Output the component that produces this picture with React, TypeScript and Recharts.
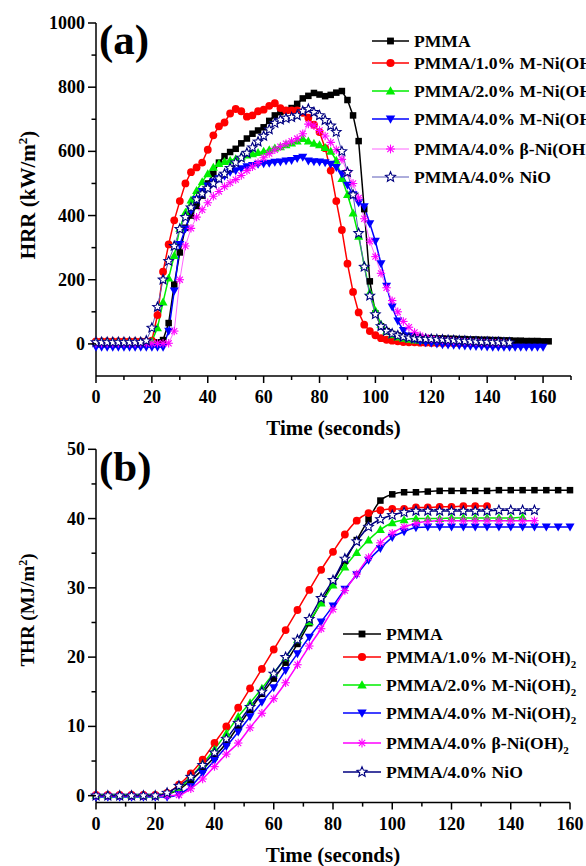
import React from 'react';
import { LineChart, Line, XAxis, YAxis } from 'recharts';

const FONT = '"Liberation Serif", "Times New Roman", Times, serif';

// ---------- Panel (a): HRR, sampled every 2 s ----------
const hrrTime = [
  0, 2, 4, 6, 8, 10, 12, 14, 16, 18, 20, 22, 24, 26, 28, 30, 32, 34, 36, 38,
  40, 42, 44, 46, 48, 50, 52, 54, 56, 58, 60, 62, 64, 66, 68, 70, 72, 74, 76, 78,
  80, 82, 84, 86, 88, 90, 92, 94, 96, 98, 100, 102, 104, 106, 108, 110, 112, 114, 116, 118,
  120, 122, 124, 126, 128, 130, 132, 134, 136, 138, 140, 142, 144, 146, 148, 150, 152, 154, 156, 158,
  160, 162,
];
const hrrPMMA = [
  5, 5, 5, 5, 5, 5, 5, 5, 5, 5,
  5, 5, 12, 65, 185, 285, 362, 400, 430, 462,
  500, 530, 565, 585, 598, 608, 625, 640, 655, 665,
  675, 695, 712, 722, 727, 735, 748, 765, 773, 782,
  777, 772, 776, 783, 788, 760, 712, 632, 420, 195,
  95, 55, 40, 31, 26, 23, 21, 20, 19, 18,
  18, 17, 17, 16, 16, 15, 15, 14, 14, 13,
  13, 12, 12, 11, 11, 10, 10, 9, 9, 9,
  8, 8,
];
const hrrM1 = [
  8, 8, 8, 8, 8, 8, 8, 8, 8, 8,
  10, 90, 225, 310, 385, 445, 500, 535, 550, 565,
  605, 650, 678, 690, 718, 732, 725, 708, 712, 725,
  730, 742, 750, 735, 728, 728, 728, 720, 705, 683,
  660, 610, 540, 445, 355, 250, 162, 98, 60, 40,
  27, 18, 13, 10, 8, 6, 5, 5, 4, 4,
  3, 3, 3, 3, 2, 2, 2, 2,
];
const hrrM2 = [
  8, 8, 8, 8, 8, 8, 8, 8, 8, 8,
  8, 50, 130, 205, 275, 360, 410, 448, 478, 505,
  530, 550, 562, 568, 572, 577, 583, 588, 592, 596,
  600, 605, 610, 614, 620, 626, 632, 640, 632, 625,
  620, 612, 600, 572, 515, 465, 408, 335, 245, 160,
  104, 61, 40, 28, 21, 17, 14, 12, 11, 10,
  10, 9, 9, 8, 8, 8, 7, 7, 7, 7,
  6, 6, 6, 6,
];
const hrrM4 = [
  -10, -10, -10, -10, -10, -10, -10, -10, -10, -10,
  -10, -10, -10, 40, 165, 310, 358, 415, 450, 475,
  492, 505, 515, 523, 535, 540, 546, 552, 556, 560,
  562, 563, 566, 567, 570, 572, 578, 582, 570, 568,
  567, 565, 560, 550, 530, 495, 465, 440, 428, 375,
  320, 250, 180, 115, 72, 42, 25, 15, 8, 4,
  2, 0, -2, -3, -4, -5, -6, -7, -8, -8,
  -9, -10, -10, -10, -10, -10, -10, -10, -10, -10,
  -10,
];
const hrrBeta = [
  2, 2, 2, 2, 2, 2, 2, 2, 2, 2,
  2, 2, 2, 2, 40, 200, 305, 360, 395, 418,
  440, 460, 475, 490, 502, 512, 525, 540, 552, 565,
  580, 593, 605, 615, 624, 632, 640, 655, 685, 680,
  665, 648, 628, 605, 575, 535, 500, 455, 390, 320,
  272, 220, 175, 135, 100, 70, 52, 36, 26, 20,
  16, 14, 12, 11, 10, 9, 8, 7, 6, 6,
  5, 5, 4, 4,
];
const hrrNiO = [
  5, 5, 5, 5, 5, 5, 5, 5, 5, 10,
  50, 115, 200, 258, 305, 358, 395, 425, 450, 468,
  485, 500, 515, 530, 548, 565, 580, 595, 612, 630,
  648, 668, 688, 698, 703, 706, 712, 725, 732, 722,
  712, 697, 680, 660, 600, 535, 465, 345, 240, 150,
  92, 55, 40, 32, 26, 22, 19, 17, 16, 15,
  15, 14, 13, 12, 11, 10, 9, 8, 7, 6,
  6, 5, 5, 4, 4,
];

// ---------- Panel (b): THR, sampled every 4 s ----------
const thrTime = [
  0, 4, 8, 12, 16, 20, 24, 28, 32, 36, 40, 44, 48, 52, 56, 60, 64, 68, 72, 76,
  80, 84, 88, 92, 96, 100, 104, 108, 112, 116, 120, 124, 128, 132, 136, 140, 144, 148, 152, 156,
  160,
];
const thrPMMA = [
  0, 0, 0, 0, 0, 0, 0.2, 0.9, 2.2, 3.8,
  5.6, 7.6, 10.0, 12.4, 14.7, 16.9, 19.2, 21.9, 24.9, 27.9,
  30.9, 33.9, 36.9, 39.9, 42.6, 43.5, 43.8, 43.8, 43.9, 44.0,
  44.0, 44.0, 44.0, 44.0, 44.1, 44.1, 44.1, 44.1, 44.1, 44.1,
  44.1,
];
const thrM1 = [
  0.1, 0.1, 0.1, 0.1, 0.1, 0.1, 0.4, 1.6, 3.2, 5.2,
  7.6, 10.0, 12.7, 15.5, 18.3, 21.1, 23.9, 26.8, 29.7, 32.6,
  35.2, 37.7, 39.7, 40.8, 41.2, 41.4, 41.4, 41.6, 41.6, 41.7,
  41.7, 41.8, 41.8, 41.8,
];
const thrM2 = [
  0.1, 0.1, 0.1, 0.1, 0.1, 0.1, 0.3, 1.0, 2.7, 4.6,
  6.7, 9.0, 11.4, 13.4, 15.5, 17.7, 19.9, 22.5, 25.1, 27.8,
  30.4, 33.0, 35.1, 36.9, 38.4, 39.4, 39.8, 40.0, 40.0, 40.0,
  40.1, 40.1, 40.1, 40.1, 40.1, 40.1, 40.2,
];
const thrM4 = [
  -0.2, -0.2, -0.2, -0.2, -0.2, -0.2, -0.2, 0.2, 1.3, 3.2,
  5.1, 7.1, 9.2, 11.4, 13.5, 15.6, 18.1, 20.5, 22.9, 25.1,
  27.4, 29.8, 31.9, 34.0, 35.7, 37.3, 38.1, 38.7, 38.8, 38.8,
  38.8, 38.8, 38.8, 38.8, 38.8, 38.8, 38.8, 38.8, 38.8, 38.8,
  38.8,
];
const thrBeta = [
  0, 0, 0, 0, 0, 0, 0, 0.1, 1.0, 2.4,
  4.2, 6.0, 7.6, 9.8, 11.9, 14.0, 16.3, 18.9, 21.6, 24.1,
  26.9, 29.6, 32.0, 34.4, 36.5, 37.9, 38.8, 39.3, 39.6, 39.7,
  39.7, 39.7, 39.7, 39.7, 39.7, 39.7, 39.7, 39.7,
];
const thrNiO = [
  0, 0, 0, 0, 0, 0, 0.4, 1.4, 2.7, 4.4,
  6.2, 8.2, 10.5, 12.8, 15.0, 17.6, 20.0, 22.5, 25.5, 28.5,
  31.1, 34.2, 36.7, 38.8, 39.9, 40.5, 40.9, 41.1, 41.1, 41.1,
  41.1, 41.1, 41.1, 41.1, 41.2, 41.2, 41.2, 41.2,
];

// ---------- Axis ticks ----------
const hrrXTicks = [0, 10, 20, 30, 40, 50, 60, 70, 80, 90, 100, 110, 120, 130, 140, 150, 160, 170];
const hrrXLabels = [0, 20, 40, 60, 80, 100, 120, 140, 160];
const hrrYTicks = [0, 100, 200, 300, 400, 500, 600, 700, 800, 900, 1000];
const hrrYLabels = [0, 200, 400, 600, 800, 1000];
const thrXTicks = [0, 10, 20, 30, 40, 50, 60, 70, 80, 90, 100, 110, 120, 130, 140, 150, 160];
const thrXLabels = [0, 20, 40, 60, 80, 100, 120, 140, 160];
const thrYTicks = [0, 5, 10, 15, 20, 25, 30, 35, 40, 45, 50];
const thrYLabels = [0, 10, 20, 30, 40, 50];

// ---------- Series ----------
const seriesNames = [
  'PMMA',
  'PMMA/1.0% M-Ni(OH)',
  'PMMA/2.0% M-Ni(OH)',
  'PMMA/4.0% M-Ni(OH)',
  'PMMA/4.0% \u03B2-Ni(OH)',
  'PMMA/4.0% NiO',
];
const seriesSub = [false, true, true, true, true, false];
const seriesKeys = ['pmma', 'm1', 'm2', 'm4', 'beta', 'nio'];
const seriesMarkers = ['square', 'circle', 'up', 'down', 'asterisk', 'star'];
const markerColors = ['#000000', '#ff0000', '#00ee00', '#0000ff', '#ff00ff', '#000080'];
const lineColorsA = ['#000000', '#ff0000', '#00ee00', '#0000ff', '#ff66ff', '#5a5ab8'];
const lineColorsB = ['#000000', '#ff0000', '#00ee00', '#0000ff', '#ff00ff', '#000080'];
const lineWidthsA = [1.5, 1.5, 1.5, 1.5, 1, 1];
const lineWidthsB = [1.5, 1.5, 1.5, 1.5, 1.5, 1.5];

const hrrSeries = [hrrPMMA, hrrM1, hrrM2, hrrM4, hrrBeta, hrrNiO];
const thrSeries = [thrPMMA, thrM1, thrM2, thrM4, thrBeta, thrNiO];

const buildRows = (time: number[], series: number[][]) =>
  time.map((t, i) => {
    const row: Record<string, number | null> = { t };
    seriesKeys.forEach((k, j) => {
      row[k] = i < series[j].length ? series[j][i] : null;
    });
    return row;
  });

const hrrRows = buildRows(hrrTime, hrrSeries);
const thrRows = buildRows(thrTime, thrSeries);

// ---------- Markers ----------
function Marker({ kind, cx, cy, color, s = 1 }: { kind: string; cx: number; cy: number; color: string; s?: number }) {
  switch (kind) {
    case 'square': {
      const a = 6.5 * s;
      return <rect x={cx - a / 2} y={cy - a / 2} width={a} height={a} fill={color} />;
    }
    case 'circle':
      return <circle cx={cx} cy={cy} r={3.9 * s} fill={color} />;
    case 'up': {
      const w = 4.5 * s;
      return (
        <polygon
          points={`${cx},${cy - 4.6 * s} ${cx + w},${cy + 3.4 * s} ${cx - w},${cy + 3.4 * s}`}
          fill={color}
        />
      );
    }
    case 'down': {
      const w = 4.5 * s;
      return (
        <polygon
          points={`${cx},${cy + 4.6 * s} ${cx + w},${cy - 3.4 * s} ${cx - w},${cy - 3.4 * s}`}
          fill={color}
        />
      );
    }
    case 'asterisk': {
      const r = 4.2 * s;
      const d = r * 0.72;
      return (
        <g stroke={color} strokeWidth={1.1}>
          <line x1={cx - r} y1={cy} x2={cx + r} y2={cy} />
          <line x1={cx} y1={cy - r} x2={cx} y2={cy + r} />
          <line x1={cx - d} y1={cy - d} x2={cx + d} y2={cy + d} />
          <line x1={cx - d} y1={cy + d} x2={cx + d} y2={cy - d} />
        </g>
      );
    }
    case 'star': {
      const R = 5 * s;
      const r = R * 0.45;
      const pts: string[] = [];
      for (let i = 0; i < 10; i++) {
        const rad = i % 2 === 0 ? R : r;
        const ang = -Math.PI / 2 + (i * Math.PI) / 5;
        pts.push(`${(cx + rad * Math.cos(ang)).toFixed(2)},${(cy + rad * Math.sin(ang)).toFixed(2)}`);
      }
      return <polygon points={pts.join(' ')} fill="#ffffff" stroke={color} strokeWidth={1.1} />;
    }
    default:
      return null;
  }
}

const makeDot = (j: number) => (p: any) => {
  const key = `d-${j}-${p.index}`;
  if (p.cx == null || p.cy == null || p.value == null) return <g key={key} />;
  return (
    <g key={key}>
      <Marker kind={seriesMarkers[j]} cx={p.cx} cy={p.cy} color={markerColors[j]} />
    </g>
  );
};

// ---------- Ticks ----------
const makeXTick = (axisY: number, labels: number[]) => (props: any) => {
  const { x, payload } = props;
  const major = labels.includes(payload.value);
  return (
    <g>
      <line x1={x} x2={x} y1={axisY} y2={axisY + (major ? 7 : 4)} stroke="#000" strokeWidth={1.5} />
      {major && (
        <text x={x} y={axisY + 27} textAnchor="middle" fontFamily={FONT} fontWeight="bold" fontSize={18} fill="#000">
          {payload.value}
        </text>
      )}
    </g>
  );
};

const makeYTick = (axisX: number, labels: number[]) => (props: any) => {
  const { y, payload } = props;
  const major = labels.includes(payload.value);
  return (
    <g>
      <line x1={axisX - (major ? 8 : 4.5)} x2={axisX} y1={y} y2={y} stroke="#000" strokeWidth={1.5} />
      {major && (
        <text x={axisX - 11} y={y + 6} textAnchor="end" fontFamily={FONT} fontWeight="bold" fontSize={18} fill="#000">
          {payload.value}
        </text>
      )}
    </g>
  );
};

// ---------- Legend ----------
function LegendBlock({
  x1, x2, tx, rows, lineColors, lineWidths,
}: { x1: number; x2: number; tx: number; rows: number[]; lineColors: string[]; lineWidths: number[] }) {
  const mx = (x1 + x2) / 2;
  return (
    <g>
      {seriesNames.map((name, j) => (
        <g key={name}>
          <line x1={x1} x2={x2} y1={rows[j]} y2={rows[j]} stroke={lineColors[j]} strokeWidth={lineWidths[j]} />
          <Marker kind={seriesMarkers[j]} cx={mx} cy={rows[j]} color={markerColors[j]} s={1.05} />
          <text x={tx} y={rows[j] + 6} fontFamily={FONT} fontWeight="bold" fontSize={17.6} fill="#000">
            {name}
            {seriesSub[j] && (
              <tspan fontSize={11} dy={5}>
                2
              </tspan>
            )}
          </text>
        </g>
      ))}
    </g>
  );
}

const legendRowsA = [41, 63, 91, 119, 149, 177];
const legendRowsB = [204, 227, 255, 283, 313, 342];

export default function App() {
  const A_AXIS_X = 96;
  const A_AXIS_Y = 376;
  const B_AXIS_X = 96;
  const B_AXIS_Y = 372.6;
  return (
    <div
      style={{
        position: 'absolute',
        left: 0,
        top: 0,
        width: 586,
        height: 866,
        overflow: 'hidden',
        background: '#ffffff',
      }}
    >
      <div style={{ position: 'absolute', left: 0, top: 0 }}>
        <LineChart width={586} height={442} data={hrrRows} margin={{ top: 23, right: 15, bottom: 2, left: 0 }}>
          <XAxis
            dataKey="t"
            type="number"
            domain={[0, 170]}
            ticks={hrrXTicks}
            interval={0}
            tickLine={false}
            axisLine={{ stroke: '#000', strokeWidth: 1.5 }}
            tick={makeXTick(A_AXIS_Y, hrrXLabels)}
            height={64}
          />
          <YAxis
            type="number"
            domain={[-100, 1000]}
            ticks={hrrYTicks}
            interval={0}
            tickLine={false}
            axisLine={{ stroke: '#000', strokeWidth: 1.5 }}
            tick={makeYTick(A_AXIS_X, hrrYLabels)}
            width={96}
            allowDataOverflow
          />
          {seriesKeys.map((k, j) => (
            <Line
              key={k}
              dataKey={k}
              type="linear"
              stroke={lineColorsA[j]}
              strokeWidth={lineWidthsA[j]}
              dot={makeDot(j)}
              activeDot={false}
              isAnimationActive={false}
              connectNulls={false}
            />
          ))}
          <text x={99} y={54} fontFamily={FONT} fontWeight="bold" fontSize={43} fill="#000">
            (a)
          </text>
          <text x={333.5} y={435} textAnchor="middle" fontFamily={FONT} fontWeight="bold" fontSize={21} fill="#000">
            Time (seconds)
          </text>
          <text
            x={35}
            y={195}
            transform="rotate(-90 35 195)"
            textAnchor="middle"
            fontFamily={FONT}
            fontWeight="bold"
            fontSize={21}
            fill="#000"
          >
            HRR (kW/m
            <tspan fontSize={13} dy={-8}>
              2
            </tspan>
            <tspan dy={8}>)</tspan>
          </text>
          <LegendBlock x1={372} x2={409} tx={414} rows={legendRowsA} lineColors={lineColorsA} lineWidths={lineWidthsA} />
        </LineChart>
      </div>
      <div style={{ position: 'absolute', left: 0, top: 430 }}>
        <LineChart width={586} height={436} data={thrRows} margin={{ top: 19.3, right: 16, bottom: 0, left: 0 }}>
          <XAxis
            dataKey="t"
            type="number"
            domain={[0, 160]}
            ticks={thrXTicks}
            interval={0}
            tickLine={false}
            axisLine={{ stroke: '#000', strokeWidth: 1.5 }}
            tick={makeXTick(B_AXIS_Y, thrXLabels)}
            height={63.4}
          />
          <YAxis
            type="number"
            domain={[-1, 50]}
            ticks={thrYTicks}
            interval={0}
            tickLine={false}
            axisLine={{ stroke: '#000', strokeWidth: 1.5 }}
            tick={makeYTick(B_AXIS_X, thrYLabels)}
            width={96}
            allowDataOverflow
          />
          {seriesKeys.map((k, j) => (
            <Line
              key={k}
              dataKey={k}
              type="monotone"
              stroke={lineColorsB[j]}
              strokeWidth={lineWidthsB[j]}
              dot={makeDot(j)}
              activeDot={false}
              isAnimationActive={false}
              connectNulls={false}
            />
          ))}
          <text x={99} y={51} fontFamily={FONT} fontWeight="bold" fontSize={43} fill="#000">
            (b)
          </text>
          <text x={333} y={432} textAnchor="middle" fontFamily={FONT} fontWeight="bold" fontSize={21} fill="#000">
            Time (seconds)
          </text>
          <text
            x={34}
            y={180}
            transform="rotate(-90 34 180)"
            textAnchor="middle"
            fontFamily={FONT}
            fontWeight="bold"
            fontSize={19}
            fill="#000"
          >
            THR (MJ/m
            <tspan fontSize={12} dy={-7}>
              2
            </tspan>
            <tspan dy={7}>)</tspan>
          </text>
          <LegendBlock x1={343} x2={381} tx={386} rows={legendRowsB} lineColors={lineColorsB} lineWidths={lineWidthsB} />
        </LineChart>
      </div>
    </div>
  );
}
